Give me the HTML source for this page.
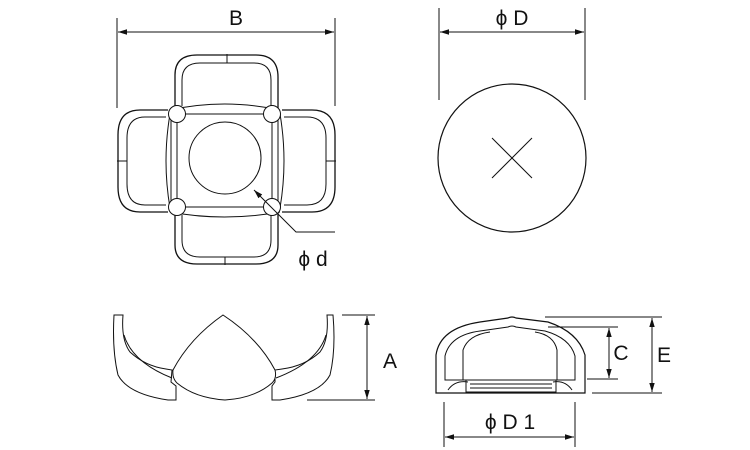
<!DOCTYPE html>
<html><head><style>body{margin:0;background:#fff}svg{display:block}text{font-family:"Liberation Sans",sans-serif;fill:#111}</style></head><body>
<svg width="750" height="450" viewBox="0 0 750 450" xmlns="http://www.w3.org/2000/svg">
<defs><marker id="a" viewBox="0 0 10 10" refX="10" refY="5" markerWidth="9" markerHeight="9" orient="auto-start-reverse"><path d="M0,2 L10,5 L0,8z" fill="#111"/></marker></defs>
<g stroke="#111" stroke-width="1" fill="none">
<!-- B -->
<line x1="117" y1="18" x2="117" y2="108"/><line x1="335" y1="18" x2="335" y2="106"/>
<line x1="118" y1="32" x2="334" y2="32" marker-start="url(#a)" marker-end="url(#a)"/>
<!-- top loop -->
<path d="M175,108 L175,75 Q175,55 197,55 L256,55 Q278,55 278,77 L278,108" stroke-width="1.3"/>
<path d="M182,106 L182,80 Q182,63 200,63 L254,63 Q271,63 271,80 L271,106"/>
<line x1="227" y1="54" x2="227" y2="63"/>
<!-- bottom loop -->
<path d="M175,213 L175,245 Q175,264 197,264 L256,264 Q278,264 278,245 L278,213" stroke-width="1.3"/>
<path d="M182,215 L182,240 Q182,257 200,257 L254,257 Q271,257 271,240 L271,215"/>
<line x1="225" y1="257" x2="225" y2="265"/>
<!-- left loop -->
<path d="M168,110 L140,110 Q118,110 118,135 L118,187 Q118,212 140,212 L168,212" stroke-width="1.3"/>
<path d="M166,117 L145,117 Q127,117 127,138 L127,184 Q127,205 145,205 L166,205"/>
<line x1="117" y1="161" x2="127" y2="161"/>
<!-- right loop -->
<path d="M282,110 L312,110 Q335,110 335,135 L335,187 Q335,212 312,212 L282,212" stroke-width="1.3"/>
<path d="M284,117 L307,117 Q326,117 326,138 L326,184 Q326,205 307,205 L284,205"/>
<line x1="326" y1="161" x2="336" y2="161"/>
<!-- body -->
<path d="M170,110 Q224,98 280,110 M170,212 Q224,222 280,212"/>
<path d="M170,114 Q162,161 170,208 M280,114 Q288,161 280,208"/>
<rect x="177" y="114" width="95" height="93"/>
<line x1="171" y1="112" x2="171" y2="210"/><line x1="278" y1="112" x2="278" y2="210"/>
<circle cx="225" cy="158" r="36"/>
<g fill="#fff"><circle cx="177" cy="114" r="8.5"/><circle cx="272" cy="114" r="8.5"/><circle cx="177" cy="207" r="8.5"/><circle cx="272" cy="207" r="8.5"/></g>
<polyline points="335,232 296,232 254,190" marker-end="url(#a)"/>
<!-- phi D -->
<line x1="439" y1="8" x2="439" y2="100"/><line x1="585" y1="8" x2="585" y2="100"/>
<line x1="440" y1="32" x2="584" y2="32" marker-start="url(#a)" marker-end="url(#a)"/>
<circle cx="512" cy="158" r="74" stroke-width="1.2"/>
<line x1="492" y1="138" x2="532" y2="178"/><line x1="532" y1="138" x2="492" y2="178"/>
<!-- side view left: wings -->
<path d="M114,315 L123,315 Q121,340 130,352 Q145,366 166,369 L172,370 L171,382 L176,386 L176,400 L168,400 Q128,394 118,375 Q112,350 114,315z"/>
<path d="M124,335 Q132,362 172,378"/>
<path d="M333,315 L327,315 Q329,340 320,352 Q305,366 282,369 L275,370 L275,382 L272,386 L272,400 L280,400 Q320,394 330,375 Q336,350 333,315z"/>
<path d="M326,335 Q318,362 276,378"/>
<!-- center piece -->
<path d="M223,315 Q190,338 173,370 Q172,378 177,383 Q195,398 225,400 Q255,398 272,383 Q277,378 275,370 Q258,338 223,315z" fill="#fff"/>
<!-- A -->
<line x1="342" y1="315" x2="375" y2="315"/><line x1="307" y1="400" x2="375" y2="400"/>
<line x1="367" y1="316" x2="367" y2="399" marker-start="url(#a)" marker-end="url(#a)"/>
<!-- side view right -->
<path d="M436,393 L436,355 Q440,328 480,322 L508,318 Q512,316 516,318 L548,322 Q578,332 585,355 L585,393 Z" stroke-width="1.2"/>
<path d="M445,380 L445,356 Q450,335 480,331 L508,327 Q512,325 516,327 L545,331 Q570,338 575,356 L575,380 Z"/>
<path d="M463,380 L463,350 Q468,335 490,332 M557,380 L557,350 Q554,335 535,332"/>
<rect x="466" y="380" width="90" height="12"/><line x1="470" y1="384" x2="552" y2="384"/><line x1="470" y1="388" x2="552" y2="388"/>
<path d="M448,390 Q455,380 468,382 M572,390 Q565,380 553,382"/>
<!-- C, E -->
<line x1="545" y1="317" x2="662" y2="317"/><line x1="592" y1="393" x2="662" y2="393"/>
<line x1="652" y1="318" x2="652" y2="392" marker-start="url(#a)" marker-end="url(#a)"/>
<line x1="548" y1="327" x2="618" y2="327"/><line x1="587" y1="379" x2="618" y2="379"/>
<line x1="609" y1="328" x2="609" y2="378" marker-start="url(#a)" marker-end="url(#a)"/>
<!-- D1 -->
<line x1="444" y1="402" x2="444" y2="447"/><line x1="575" y1="402" x2="575" y2="447"/>
<line x1="445" y1="437" x2="574" y2="437" marker-start="url(#a)" marker-end="url(#a)"/>
</g>
<g font-size="21">
<text x="236" y="25" text-anchor="middle">B</text>
<text x="512" y="25" text-anchor="middle">ϕ D</text>
<text x="313" y="266" text-anchor="middle">ϕ d</text>
<text x="390" y="368" text-anchor="middle">A</text>
<text x="621" y="360" text-anchor="middle">C</text>
<text x="664" y="362" text-anchor="middle">E</text>
<text x="510" y="429" text-anchor="middle">ϕ D 1</text>
</g>
</svg>
</body></html>
